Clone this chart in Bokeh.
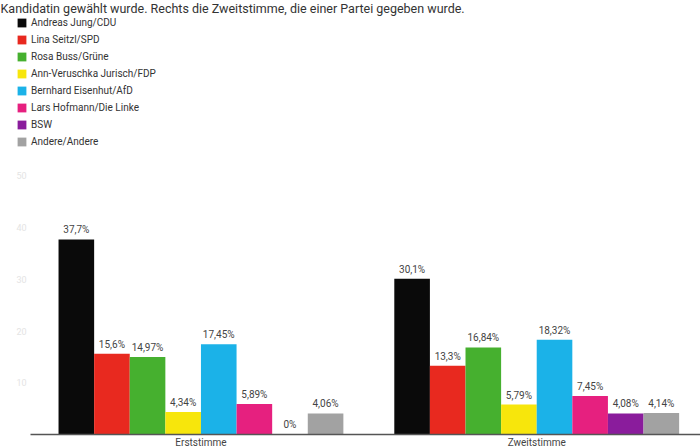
from bokeh.plotting import figure
from bokeh.models import ColumnDataSource, Range1d, Legend, LegendItem, Label
from bokeh.core.properties import value
from bokeh.embed import file_html
from bokeh.resources import INLINE

subtitle = "Kandidatin gewählt wurde. Rechts die Zweitstimme, die einer Partei gegeben wurde."
groups = ["Erststimme", "Zweitstimme"]
parties = ["Andreas Jung/CDU", "Lina Seitzl/SPD", "Rosa Buss/Grüne", "Ann-Veruschka Jurisch/FDP",
           "Bernhard Eisenhut/AfD", "Lars Hofmann/Die Linke", "BSW", "Andere/Andere"]
colors = ["#0a0a0a", "#e8291f", "#46b02f", "#f7e60c", "#1bb2e8", "#e6207f", "#8a1c9c", "#a2a2a2"]
erst = [37.7, 15.6, 14.97, 4.34, 17.45, 5.89, 0.0, 4.06]
zweit = [30.1, 13.3, 16.84, 5.79, 18.32, 7.45, 4.08, 4.14]
series = [erst, zweit]
yticks = [10, 20, 30, 40, 50]

FONT = "Roboto"
n = len(parties)
gap = 1.43
group_start = [gi * (n + gap) for gi in range(len(groups))]

X0, X1 = -1.63, 18.03
p = figure(width=700, height=448, output_backend="svg", toolbar_location=None,
           x_range=Range1d(X0, X1), y_range=Range1d(-2.71, 83.9),
           min_border_left=0, min_border_right=0, min_border_top=0, min_border_bottom=0)
p.outline_line_color = None
p.axis.visible = False
p.xgrid.grid_line_color = None
p.ygrid.grid_line_color = None
p.background_fill_color = "white"

items = []
for pi, party in enumerate(parties):
    xs = [group_start[gi] + pi + 0.5 for gi in range(len(groups))]
    vals = [series[gi][pi] for gi in range(len(groups))]
    labels = [f"{v:g}".replace(".", ",") + "%" for v in vals]
    src = ColumnDataSource(dict(x=xs, top=vals, label=labels))
    r = p.vbar(x="x", top="top", width=1.0, source=src, fill_color=colors[pi], line_color=None)
    p.text(x="x", y="top", text="label", source=src, text_align="center", text_baseline="bottom",
           y_offset=-4, text_font=value(FONT), text_font_size="10px", text_color="#444444")
    items.append(LegendItem(label=party, renderers=[r]))

# baseline (x axis line)
p.segment(x0=[X0 + 30 / 35.6], x1=[X1], y0=[0], y1=[0], line_color="#555555", line_width=1.5)

# group labels under the baseline
gsrc = ColumnDataSource(dict(x=[gs + n / 2 for gs in group_start], y=[0] * len(groups), t=groups))
p.text(x="x", y="y", text="t", source=gsrc, text_align="center", text_baseline="top", y_offset=3,
       text_font=value(FONT), text_font_size="10px", text_color="#444444")

# faint y tick labels
ysrc = ColumnDataSource(dict(x=[X0] * len(yticks), y=yticks, t=[str(t) for t in yticks]))
p.text(x="x", y="y", text="t", source=ysrc, text_align="right", text_baseline="middle", x_offset=26,
       text_font=value(FONT), text_font_size="9px", text_color="#e4e4e4")

legend = Legend(items=items, location=(16, 301), orientation="vertical",
                glyph_width=11, glyph_height=11, label_height=11, spacing=6, padding=0, margin=0,
                label_standoff=4, label_text_font=FONT, label_text_font_size="10px",
                label_text_color="#333333", border_line_color=None, background_fill_alpha=0)
p.add_layout(legend, "center")

p.add_layout(Label(x=0, y=440, x_units="screen", y_units="screen", text=subtitle,
                   text_font=FONT, text_font_size="12.5px", text_color="#333333",
                   text_baseline="middle"))

open("out.html", "w").write(file_html(p, INLINE))
